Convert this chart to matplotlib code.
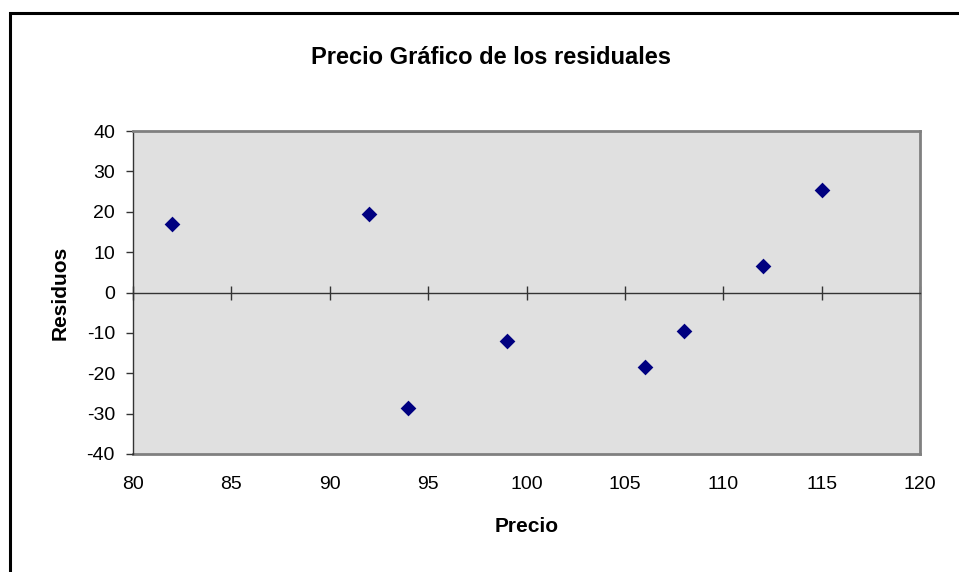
import matplotlib
matplotlib.use("Agg")
import matplotlib.pyplot as plt
from matplotlib.patches import Rectangle

precio = [82, 92, 94, 99, 106, 108, 112, 115]
residuos = [17, 19.5, -28.5, -12, -18.5, -9.5, 6.5, 25.5]
xticks = [80, 85, 90, 95, 100, 105, 110, 115, 120]
yticks = [-40, -30, -20, -10, 0, 10, 20, 30, 40]

plt.rcParams['font.family'] = ['Liberation Sans', 'DejaVu Sans']

fig = plt.figure(figsize=(9.59, 5.72), dpi=100)
# outer chart frame (extends past right/bottom edge)
fig.patches.append(Rectangle((9.5 / 959, -0.05), 1.1, 1 - 13 / 572 + 0.05,
                             transform=fig.transFigure, fill=False,
                             edgecolor='black', linewidth=2.2))

ax = fig.add_axes([133 / 959, 118 / 572, 787 / 959, 323 / 572])
ax.set_facecolor('#E0E0E0')
ax.set_xlim(80, 120)
ax.set_ylim(-40, 40)

ax.scatter(precio, residuos, marker='D', s=64, color='#000080', zorder=5,
           linewidths=0)

# spines
for s in ['top', 'right']:
    ax.spines[s].set_color('#808080')
    ax.spines[s].set_linewidth(2)
ax.spines['left'].set_color('#333333')
ax.spines['left'].set_linewidth(1)
ax.spines['bottom'].set_position(('data', 0))
ax.spines['bottom'].set_color('#333333')
ax.spines['bottom'].set_linewidth(1)

ax.set_xticks(xticks)
ax.set_yticks(yticks)
ax.set_yticklabels([str(v) for v in yticks])
ax.tick_params(axis='x', direction='inout', length=10, width=1, color='#333333',
               labelbottom=False)
ax.tick_params(axis='y', direction='out', length=5, width=1, color='#333333',
               labelsize=14, pad=8)

sec = ax.secondary_xaxis('bottom')
sec.set_xticks(xticks)
sec.set_xticklabels([str(v) for v in xticks])
sec.tick_params(length=0, labelsize=14, pad=16)
sec.spines['bottom'].set_color('#808080')
sec.spines['bottom'].set_linewidth(2)

fig.text(491 / 959, 1 - 57 / 572, 'Precio Gráfico de los residuales',
         ha='center', va='center', fontsize=17, fontweight='bold')
fig.text(527 / 959, 1 - 527 / 572, 'Precio', ha='center', va='center',
         fontsize=15, fontweight='bold')
fig.text(60 / 959, 1 - 293 / 572, 'Residuos', ha='center', va='center',
         rotation=90, fontsize=15, fontweight='bold')

fig.savefig('out.png', dpi=100)
